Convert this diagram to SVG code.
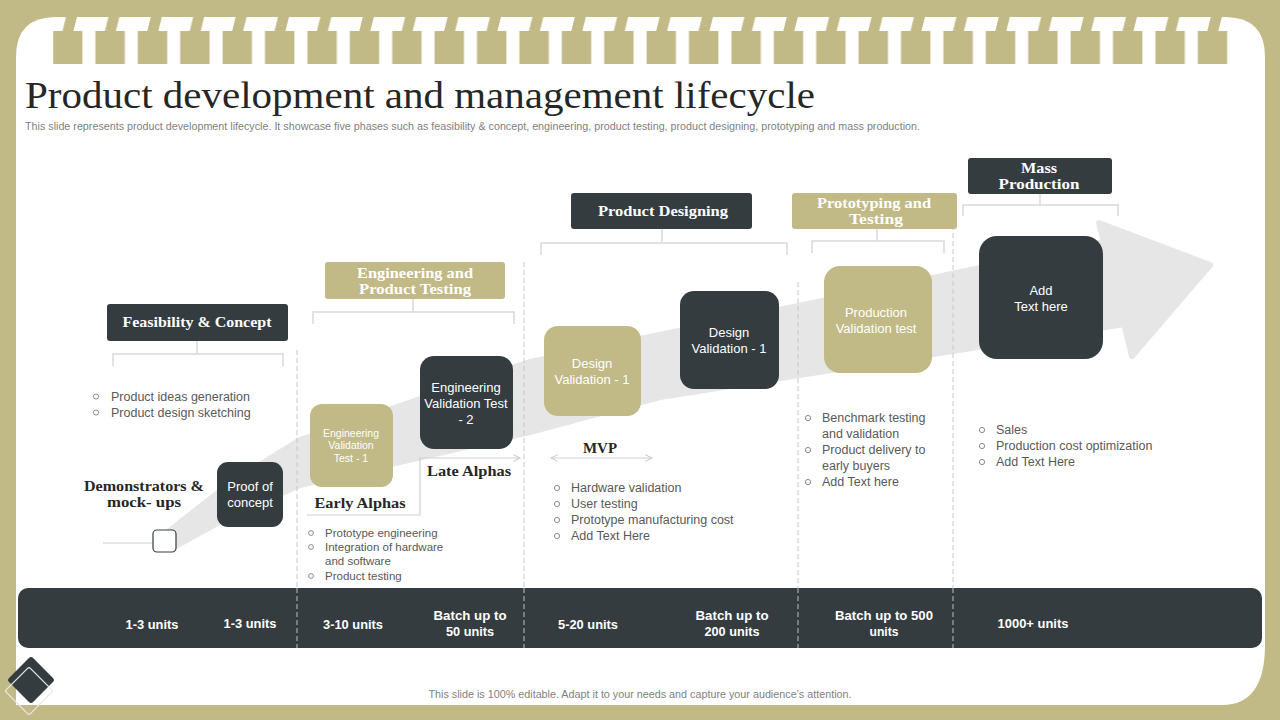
<svg xmlns="http://www.w3.org/2000/svg" width="1280" height="720" viewBox="0 0 1280 720">
<defs>
<style>
.kh{fill:#C1B986}
.dk{fill:#343C40}
.hd{font-family:"Liberation Serif",serif;font-weight:bold;font-size:15px;fill:#fff;text-anchor:middle}
.lb{font-family:"Liberation Serif",serif;font-weight:bold;font-size:15px;fill:#262626;text-anchor:middle}
.bx{font-family:"Liberation Sans",Arial,sans-serif;font-size:13px;fill:#fff;text-anchor:middle}
.bs{font-family:"Liberation Sans",Arial,sans-serif;font-size:10.5px;fill:#fff;text-anchor:middle}
.bl{font-family:"Liberation Sans",Arial,sans-serif;font-size:12.5px;fill:#595959}
.bl2{font-family:"Liberation Sans",Arial,sans-serif;font-size:11.5px;fill:#595959}
.bt{font-family:"Liberation Sans",Arial,sans-serif;font-size:13px;font-weight:bold;fill:#fff;text-anchor:middle}
.br{fill:none;stroke:#D9D9D9;stroke-width:1.5}
.ln{fill:none;stroke:#D0D0D0;stroke-width:1.2}
.ds{fill:none;stroke:#C8C8C8;stroke-width:1;stroke-dasharray:5 3}
.bu{fill:none;stroke:#7F7F7F;stroke-width:0.9}
</style>
<pattern id="teeth" x="46.5" y="15" width="42.4" height="50" patternUnits="userSpaceOnUse">
<polygon points="6.5,16 35.9,16 35.9,49 6.5,49" fill="#C1B986"/>
<polygon points="20,0 31,0 27,16 16,16" fill="#C1B986"/>
</pattern>
<marker id="chev" viewBox="0 0 10 10" refX="9" refY="5" markerWidth="7" markerHeight="7" orient="auto-start-reverse">
<path d="M1,1 L9,5 L1,9" fill="none" stroke="#C8C8C8" stroke-width="1.2"/>
</marker>
</defs>

<rect width="1280" height="720" fill="#C1B986"/>
<path d="M16,705 L16,57 Q16,17 56,17 L1225,17 Q1265,17 1265,57 L1265,645 Q1265,705 1222,705 Z" fill="#fff"/>
<rect x="53" y="15" width="1175" height="50" fill="url(#teeth)"/>

<text x="25" y="108" font-family="'Liberation Serif',serif" font-size="38" fill="#262626" textLength="790" lengthAdjust="spacingAndGlyphs">Product development and management lifecycle</text>
<text x="25" y="130" font-family="'Liberation Sans',Arial,sans-serif" font-size="10" fill="#7F7F7F" textLength="895" lengthAdjust="spacingAndGlyphs">This slide represents product development lifecycle. It showcase five phases such as feasibility &amp; concept, engineering, product testing, product designing, prototyping and mass production.</text>

<g id="arrow">
<path d="M168,532 L232,482 L300,440 L530,362 L1104,242 L1099,223 L1210,265 L1132,356 L1124,324 L660,397 L530,432 L300,485 L232,515 L176,546 Z" fill="#E6E6E6" stroke="#E6E6E6" stroke-width="6" stroke-linejoin="round"/>
</g>

<g id="connectors">
<path class="ds" d="M297,350 V647 M524,262 V647 M798,282 V647 M953,193 V647"/>
<path class="br" d="M197,341 V354 M113,366 V354 H283 V366"/>
<path class="br" d="M413,299 V312 M313,324 V312 H514 V324"/>
<path class="br" d="M662,229 V243 M541,255 V243 H787 V255"/>
<path class="br" d="M877,229 V241 M812,253 V241 H944 V253"/>
<path class="br" d="M1040,194 V205 M963,216 V205 H1118 V216"/>
<path class="ln" d="M103,543 H153"/>
<path class="ln" d="M307,515 H420 V458 H520" marker-end="url(#chev)"/>
<path class="ln" d="M551,458 H652" marker-start="url(#chev)" marker-end="url(#chev)"/>
</g>

<g id="feasibility-header">
<rect x="107" y="304" width="181" height="37" rx="3" class="dk"/>
<text x="197" y="327" class="hd" textLength="149" lengthAdjust="spacingAndGlyphs">Feasibility &amp; Concept</text>
</g>
<g id="engineering-header">
<rect x="325" y="262" width="180" height="37" rx="3" class="kh"/>
<text x="415" y="278" class="hd" textLength="116" lengthAdjust="spacingAndGlyphs">Engineering and</text>
<text x="415" y="294" class="hd" textLength="112" lengthAdjust="spacingAndGlyphs">Product Testing</text>
</g>
<g id="designing-header">
<rect x="571" y="193" width="181" height="36" rx="3" class="dk"/>
<text x="663" y="216" class="hd" textLength="130" lengthAdjust="spacingAndGlyphs">Product Designing</text>
</g>
<g id="prototyping-header">
<rect x="792" y="193" width="165" height="36" rx="3" class="kh"/>
<text x="874" y="208" class="hd" textLength="114" lengthAdjust="spacingAndGlyphs">Prototyping and</text>
<text x="876" y="224" class="hd" textLength="54" lengthAdjust="spacingAndGlyphs">Testing</text>
</g>
<g id="mass-header">
<rect x="968" y="158" width="144" height="36" rx="3" class="dk"/>
<text x="1039" y="173" class="hd" textLength="36" lengthAdjust="spacingAndGlyphs">Mass</text>
<text x="1039" y="189" class="hd" textLength="81" lengthAdjust="spacingAndGlyphs">Production</text>
</g>

<g id="small-square">
<rect x="153" y="530" width="23" height="22" rx="4" fill="#fff" stroke="#343C40" stroke-width="1.2"/>
</g>
<g id="demonstrators">
<text x="144" y="491" class="lb" textLength="120" lengthAdjust="spacingAndGlyphs">Demonstrators &amp;</text>
<text x="144" y="507" class="lb" textLength="74" lengthAdjust="spacingAndGlyphs">mock- ups</text>
</g>
<g id="proof-of-concept">
<rect x="217" y="462" width="66" height="65" rx="11" class="dk"/>
<text x="250" y="491" class="bx">Proof of</text>
<text x="250" y="507" class="bx">concept</text>
</g>
<g id="evt1">
<rect x="310" y="404" width="83" height="83" rx="12" class="kh"/>
<text x="351" y="437" class="bs">Engineering</text>
<text x="351" y="449" class="bs">Validation</text>
<text x="351" y="462" class="bs">Test - 1</text>
</g>
<g id="evt2">
<rect x="420" y="356" width="93" height="93" rx="14" class="dk"/>
<text x="466" y="392" class="bx">Engineering</text>
<text x="466" y="408" class="bx">Validation Test</text>
<text x="466" y="424" class="bx">- 2</text>
</g>
<g id="early-alphas"><text x="360" y="508" class="lb" textLength="91" lengthAdjust="spacingAndGlyphs">Early Alphas</text></g>
<g id="late-alphas"><text x="469" y="476" class="lb" textLength="84" lengthAdjust="spacingAndGlyphs">Late Alphas</text></g>

<g id="dv1">
<rect x="544" y="326" width="97" height="90" rx="14" class="kh"/>
<text x="592" y="368" class="bx">Design</text>
<text x="592" y="384" class="bx">Validation - 1</text>
</g>
<g id="dv2">
<rect x="680" y="291" width="99" height="98" rx="14" class="dk"/>
<text x="729" y="337" class="bx">Design</text>
<text x="729" y="353" class="bx">Validation - 1</text>
</g>
<g id="mvp"><text x="600" y="453" class="lb" font-size="14" textLength="34" lengthAdjust="spacingAndGlyphs">MVP</text></g>

<g id="pvt">
<rect x="824" y="266" width="108" height="107" rx="16" class="kh"/>
<text x="876" y="317" class="bx">Production</text>
<text x="876" y="333" class="bx">Validation test</text>
</g>
<g id="add-text">
<rect x="979" y="236" width="124" height="123" rx="18" class="dk"/>
<text x="1041" y="295" class="bx">Add</text>
<text x="1041" y="311" class="bx">Text here</text>
</g>

<g id="list-feasibility">
<circle cx="96" cy="396.5" r="2.6" class="bu"/><circle cx="96" cy="412.5" r="2.6" class="bu"/>
<text x="111" y="401" class="bl">Product ideas generation</text>
<text x="111" y="417" class="bl">Product design sketching</text>
</g>
<g id="list-engineering">
<circle cx="311" cy="533" r="2.4" class="bu"/><circle cx="311" cy="547" r="2.4" class="bu"/><circle cx="311" cy="576" r="2.4" class="bu"/>
<text x="325" y="537" class="bl2">Prototype engineering</text>
<text x="325" y="551" class="bl2">Integration of hardware</text>
<text x="325" y="565" class="bl2">and software</text>
<text x="325" y="580" class="bl2">Product testing</text>
</g>
<g id="list-designing">
<circle cx="557" cy="488" r="2.6" class="bu"/><circle cx="557" cy="504" r="2.6" class="bu"/><circle cx="557" cy="520" r="2.6" class="bu"/><circle cx="557" cy="536" r="2.6" class="bu"/>
<text x="571" y="492" class="bl">Hardware validation</text>
<text x="571" y="508" class="bl">User testing</text>
<text x="571" y="524" class="bl">Prototype manufacturing cost</text>
<text x="571" y="540" class="bl">Add Text Here</text>
</g>
<g id="list-prototyping">
<circle cx="808" cy="418" r="2.6" class="bu"/><circle cx="808" cy="450" r="2.6" class="bu"/><circle cx="808" cy="482" r="2.6" class="bu"/>
<text x="822" y="422" class="bl">Benchmark testing</text>
<text x="822" y="438" class="bl">and validation</text>
<text x="822" y="454" class="bl">Product delivery to</text>
<text x="822" y="470" class="bl">early buyers</text>
<text x="822" y="486" class="bl">Add Text here</text>
</g>
<g id="list-mass">
<circle cx="982" cy="430" r="2.6" class="bu"/><circle cx="982" cy="446" r="2.6" class="bu"/><circle cx="982" cy="462" r="2.6" class="bu"/>
<text x="996" y="434" class="bl">Sales</text>
<text x="996" y="450" class="bl">Production cost optimization</text>
<text x="996" y="466" class="bl">Add Text Here</text>
</g>

<g id="units-bar">
<rect x="18" y="588" width="1244" height="60" rx="10" class="dk"/>
<path d="M297,588 V648 M524,588 V648 M798,588 V648 M953,588 V648" fill="none" stroke="#BFBFBF" stroke-width="1" stroke-dasharray="5 3"/>
<text x="152" y="629" class="bt" textLength="53" lengthAdjust="spacingAndGlyphs">1-3 units</text>
<text x="250" y="628" class="bt" textLength="53" lengthAdjust="spacingAndGlyphs">1-3 units</text>
<text x="353" y="629" class="bt" textLength="60" lengthAdjust="spacingAndGlyphs">3-10 units</text>
<text x="470" y="620" class="bt" textLength="73" lengthAdjust="spacingAndGlyphs">Batch up to</text>
<text x="470" y="636" class="bt" textLength="48" lengthAdjust="spacingAndGlyphs">50 units</text>
<text x="588" y="629" class="bt" textLength="60" lengthAdjust="spacingAndGlyphs">5-20 units</text>
<text x="732" y="620" class="bt" textLength="73" lengthAdjust="spacingAndGlyphs">Batch up to</text>
<text x="732" y="636" class="bt" textLength="55" lengthAdjust="spacingAndGlyphs">200 units</text>
<text x="884" y="620" class="bt" textLength="98" lengthAdjust="spacingAndGlyphs">Batch up to 500</text>
<text x="884" y="636" class="bt" textLength="29" lengthAdjust="spacingAndGlyphs">units</text>
<text x="1033" y="628" class="bt" textLength="71" lengthAdjust="spacingAndGlyphs">1000+ units</text>
</g>

<g id="corner-diamonds">
<rect x="14" y="663" width="34" height="34" rx="3" transform="rotate(45 31 680)" fill="#343C40"/>
<rect x="12" y="674" width="34" height="34" rx="2" transform="rotate(45 29 691)" fill="none" stroke="#E8E8E8" stroke-width="1.3"/>
</g>

<text x="640" y="698" text-anchor="middle" font-family="'Liberation Sans',Arial,sans-serif" font-size="10" fill="#7F7F7F" textLength="423" lengthAdjust="spacingAndGlyphs">This slide is 100% editable. Adapt it to your needs and capture your audience’s attention.</text>
</svg>
